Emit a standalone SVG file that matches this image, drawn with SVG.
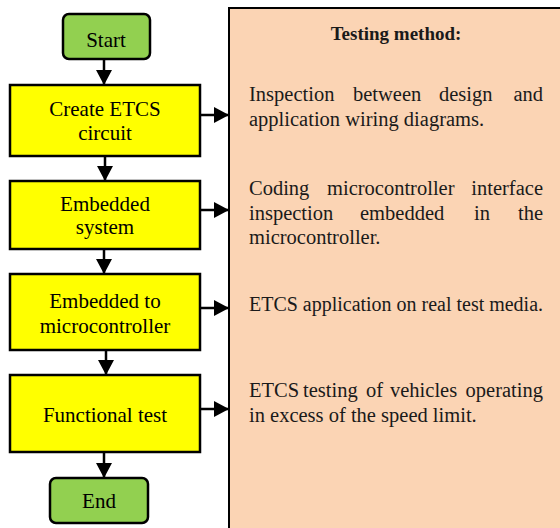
<svg xmlns="http://www.w3.org/2000/svg" width="560" height="528" viewBox="0 0 560 528">
<defs>
<marker id="ah" markerUnits="userSpaceOnUse" markerWidth="16" markerHeight="16" refX="15" refY="8" orient="auto">
<path d="M0,0 L15,8 L0,16 Z" fill="#000"/>
</marker>
<style>
.term{fill:#92D050;stroke:#000;stroke-width:2.5}
.proc{fill:#FFFF00;stroke:#000;stroke-width:2.5}
.lbl{font-size:21px;fill:#000;text-anchor:middle}
.desc{font-size:20.5px;fill:#1a1a1a}
.e{text-anchor:end}
.conn{stroke:#000;stroke-width:2.5;fill:none;marker-end:url(#ah)}
</style>
</defs>
<rect x="0" y="0" width="560" height="528" fill="#fff"/>
<g id="panel" font-family="'Liberation Serif', serif">
<rect x="229" y="8" width="340" height="530" fill="#FBD4B4" stroke="#000" stroke-width="2"/>
<text x="396" y="40" font-size="19" font-weight="bold" text-anchor="middle" fill="#1a1a1a">Testing method:</text>
<text class="desc" y="101"><tspan x="249">Inspection</tspan><tspan x="353">between</tspan><tspan x="439">design</tspan><tspan class="e" x="543">and</tspan></text>
<text class="desc" x="249" y="126">application wiring diagrams.</text>
<text class="desc" y="195"><tspan x="249">Coding</tspan><tspan x="327">microcontroller</tspan><tspan class="e" x="543">interface</tspan></text>
<text class="desc" y="220"><tspan x="249">inspection</tspan><tspan x="360">embedded</tspan><tspan x="474">in</tspan><tspan class="e" x="543">the</tspan></text>
<text class="desc" x="249" y="244">microcontroller.</text>
<text class="desc" x="249" y="311" textLength="294" lengthAdjust="spacingAndGlyphs">ETCS application on real test media.</text>
<text class="desc" y="397"><tspan x="249">ETCS</tspan><tspan x="303">testing</tspan><tspan x="366">of</tspan><tspan x="390">vehicles</tspan><tspan class="e" x="543">operating</tspan></text>
<text class="desc" x="249" y="422">in excess of the speed limit.</text>
</g>
<g id="nodes" font-family="'Liberation Serif', serif">
<g id="start">
<rect class="term" x="63" y="14" width="87" height="45" rx="6"/>
<text class="lbl" x="106" y="47">Start</text>
</g>
<g id="create">
<rect class="proc" x="10" y="85" width="190" height="71"/>
<text class="lbl" x="105" y="116">Create ETCS</text>
<text class="lbl" x="105" y="140">circuit</text>
</g>
<g id="embedded">
<rect class="proc" x="10" y="181" width="190" height="68"/>
<text class="lbl" x="105" y="211">Embedded</text>
<text class="lbl" x="105" y="234">system</text>
</g>
<g id="tomicro">
<rect class="proc" x="10" y="274" width="190" height="76"/>
<text class="lbl" x="105" y="308">Embedded to</text>
<text class="lbl" x="105" y="333">microcontroller</text>
</g>
<g id="functional">
<rect class="proc" x="10" y="375" width="190" height="77"/>
<text class="lbl" x="105" y="422">Functional test</text>
</g>
<g id="end">
<rect class="term" x="50" y="478" width="98" height="45" rx="6"/>
<text class="lbl" x="99" y="508">End</text>
</g>
</g>
<g id="connectors">
<line class="conn" x1="104" y1="59" x2="104" y2="85"/>
<line class="conn" x1="105" y1="156" x2="105" y2="181"/>
<line class="conn" x1="104" y1="249" x2="104" y2="274"/>
<line class="conn" x1="106" y1="350" x2="106" y2="375"/>
<line class="conn" x1="104" y1="452" x2="104" y2="478"/>
<line class="conn" x1="200" y1="115" x2="229" y2="115"/>
<line class="conn" x1="200" y1="210" x2="229" y2="210"/>
<line class="conn" x1="200" y1="308" x2="229" y2="308"/>
<line class="conn" x1="200" y1="409" x2="229" y2="409"/>
</g>
</svg>
